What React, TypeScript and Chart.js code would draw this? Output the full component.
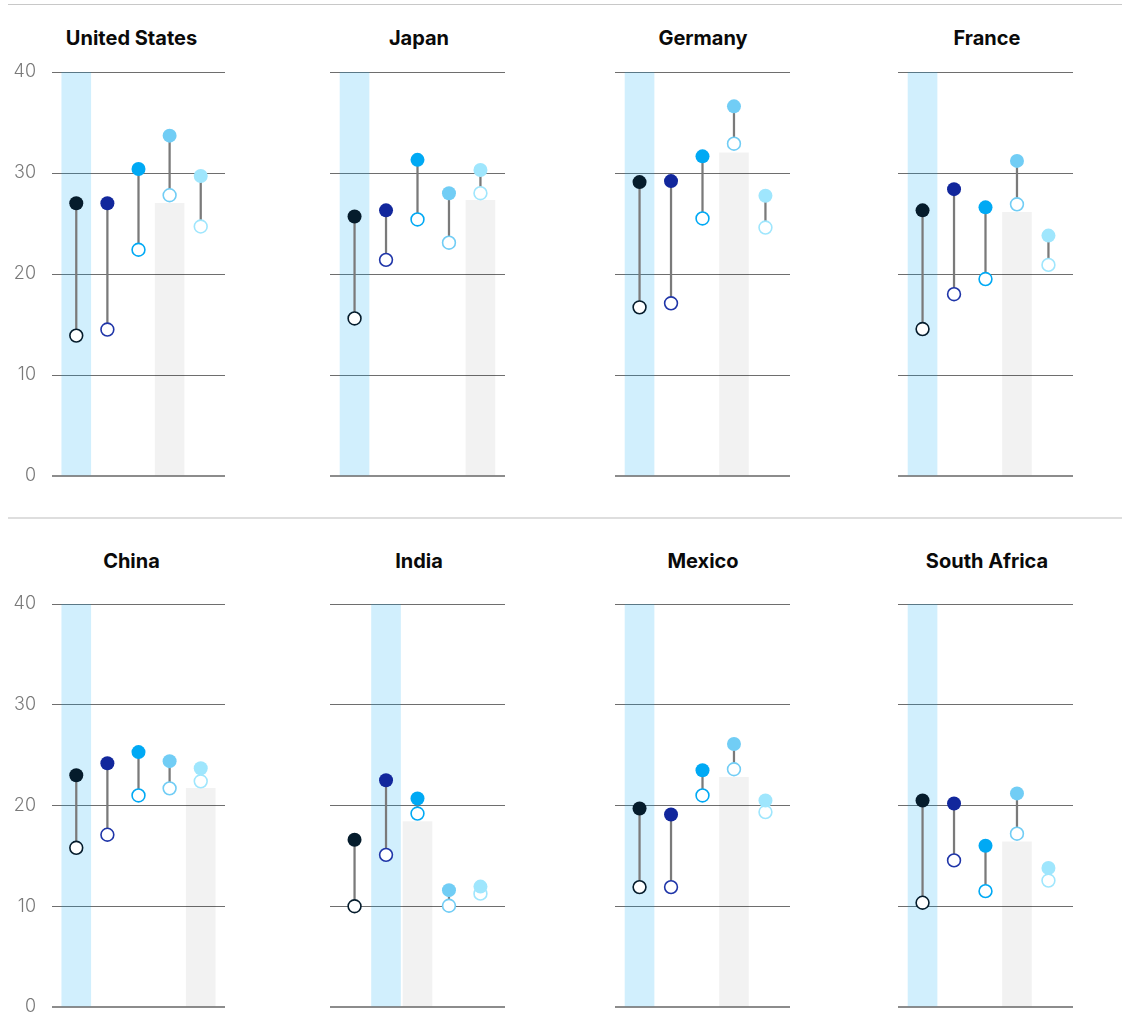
import React, { useEffect, useRef } from "react";
import { Chart, registerables } from "chart.js";

Chart.register(...registerables);

// ---------- data ----------
const countries = [
  "United States",
  "Japan",
  "Germany",
  "France",
  "China",
  "India",
  "Mexico",
  "South Africa",
];

// five groups per country (positions 0..4)
const groupPositions = [0, 1, 2, 3, 4];

// filled (upper) values per country
const usHigh = [27.0, 27.0, 30.4, 33.7, 29.7];
const japanHigh = [25.7, 26.3, 31.3, 28.0, 30.3];
const germanyHigh = [29.1, 29.2, 31.65, 36.6, 27.75];
const franceHigh = [26.3, 28.4, 26.6, 31.2, 23.8];
const chinaHigh = [23.0, 24.2, 25.3, 24.4, 23.7];
const indiaHigh = [16.6, 22.5, 20.7, 11.6, 11.95];
const mexicoHigh = [19.7, 19.1, 23.5, 26.1, 20.5];
const southAfricaHigh = [20.5, 20.2, 16.0, 21.2, 13.8];

// open (lower) values per country
const usLow = [13.9, 14.5, 22.4, 27.8, 24.7];
const japanLow = [15.6, 21.4, 25.4, 23.1, 28.0];
const germanyLow = [16.7, 17.1, 25.5, 32.9, 24.6];
const franceLow = [14.55, 18.0, 19.5, 26.9, 20.9];
const chinaLow = [15.8, 17.1, 21.0, 21.7, 22.4];
const indiaLow = [10.0, 15.1, 19.2, 10.05, 11.25];
const mexicoLow = [11.9, 11.9, 21.0, 23.6, 19.35];
const southAfricaLow = [10.35, 14.55, 11.5, 17.2, 12.55];

const highValues = [usHigh, japanHigh, germanyHigh, franceHigh, chinaHigh, indiaHigh, mexicoHigh, southAfricaHigh];
const lowValues = [usLow, japanLow, germanyLow, franceLow, chinaLow, indiaLow, mexicoLow, southAfricaLow];

// highlighted (light blue) group per country
const highlightIndex = [0, 0, 0, 0, 0, 1, 0, 0];
// grey reference bar: group and height per country
const benchmarkIndex = [3, 4, 3, 3, 4, 2, 3, 3];
const benchmarkValue = [27.0, 27.3, 32.0, 26.1, 21.7, 18.4, 22.8, 16.4];

const yTicks = [0, 10, 20, 30, 40];
const Y_MAX = 40;

// ---------- styles ----------
const fillColors = ["#051c2c", "#12279c", "#00a9f4", "#71cdf5", "#9fe6fd"];
const ringColors = ["#051c2c", "#1f35a8", "#00a9f4", "#71cdf5", "#9fe6fd"];

const colLeft = [52, 330, 615, 898];
const colWidth = [173, 175, 175, 175];
const titleCenter = [131.5, 419, 703, 987];
const plotTop = [72, 604];
const plotHeight = [404, 403];
const titleTop = [28, 551];
const AXIS_W = 44;
const PAD_V = 34;

function Panel({ idx }: { idx: number }) {
  const ref = useRef<HTMLCanvasElement>(null);
  const col = idx % 4;
  const row = Math.floor(idx / 4);
  const w = AXIS_W + colWidth[col];
  const h = plotHeight[row] + 2 * PAD_V;

  useEffect(() => {
    const canvas = ref.current;
    if (!canvas) return;
    const highs = highValues[idx];
    const lows = lowValues[idx];
    const chart = new Chart(canvas, {
      type: "bar",
      data: {
        datasets: [
          {
            type: "scatter",
            data: groupPositions.map((x, i) => ({ x, y: highs[i] })),
            pointRadius: 7,
            pointBackgroundColor: fillColors,
            pointBorderColor: fillColors,
            pointBorderWidth: 0,
            pointHoverRadius: 7,
            clip: false,
            order: 0,
          } as any,
          {
            type: "scatter",
            data: groupPositions.map((x, i) => ({ x, y: lows[i] })),
            pointRadius: 6.4,
            pointBackgroundColor: "#ffffff",
            pointBorderColor: ringColors,
            pointBorderWidth: 1.6,
            clip: false,
            order: 1,
          } as any,
          {
            type: "bar",
            data: groupPositions.map((x, i) => ({ x, y: [lows[i], highs[i]] })),
            backgroundColor: "#7a7a7a",
            barThickness: 1.6,
            grouped: false,
            borderWidth: 0,
            order: 2,
          } as any,
          {
            type: "bar",
            data: [
              { x: highlightIndex[idx], y: Y_MAX },
              { x: benchmarkIndex[idx], y: benchmarkValue[idx] },
            ],
            backgroundColor: ["rgba(0,169,244,0.18)", "rgba(0,0,0,0.052)"],
            barThickness: 29,
            grouped: false,
            borderWidth: 0,
            order: 3,
          } as any,
        ],
      },
      options: {
        animation: false,
        responsive: false,
        devicePixelRatio: 1,
        events: [],
        layout: { autoPadding: false, padding: { top: PAD_V, bottom: PAD_V, left: 0, right: 0 } },
        plugins: {
          legend: { display: false },
          tooltip: { enabled: false },
          title: { display: false },
        },
        scales: {
          x: {
            type: "linear",
            min: -0.78,
            max: 4.78,
            offset: false,
            display: false,
            grid: { offset: false },
          },
          y: {
            type: "linear",
            min: 0,
            max: Y_MAX,
            afterBuildTicks: (scale: any) => {
              scale.ticks = yTicks.map((v) => ({ value: v }));
            },
            afterFit: (scale: any) => {
              scale.width = AXIS_W;
            },
            border: { display: false },
            grid: {
              drawTicks: false,
              color: (ctx: any) => (ctx.tick && ctx.tick.value === 0 ? "#8c8c8c" : "#6e6e6e"),
              lineWidth: (ctx: any) => (ctx.tick && ctx.tick.value === 0 ? 2 : 1),
            },
            ticks: {
              display: col === 0,
              padding: 16,
              color: "#7a7a7a",
              font: { family: "Inter, 'Liberation Sans', sans-serif", size: 18, weight: "300" as any },
            },
          },
        },
      } as any,
    });
    return () => chart.destroy();
  }, [idx]);

  return (
    <>
      <div
        style={{
          position: "absolute",
          left: titleCenter[col] - 140,
          top: titleTop[row],
          width: 280,
          textAlign: "center",
          fontFamily: "Inter, 'Liberation Sans', sans-serif",
          fontWeight: 700,
          fontSize: 20,
          lineHeight: "20px",
          color: "#0a0a0a",
        }}
      >
        {countries[idx]}
      </div>
      <canvas
        ref={ref}
        width={w}
        height={h}
        style={{
          position: "absolute",
          left: colLeft[col] - AXIS_W,
          top: plotTop[row] - PAD_V,
          width: w,
          height: h,
        }}
      />
    </>
  );
}

export default function App() {
  return (
    <div
      style={{
        position: "absolute",
        left: 0,
        top: 0,
        width: 1130,
        height: 1012,
        overflow: "hidden",
        background: "#ffffff",
      }}
    >
      <div style={{ position: "absolute", left: 8, top: 4, width: 1114, height: 1, background: "#c8c8c8" }} />
      <div style={{ position: "absolute", left: 8, top: 517, width: 1114, height: 2, background: "#dedede" }} />
      {countries.map((_, i) => (
        <Panel key={i} idx={i} />
      ))}
    </div>
  );
}
